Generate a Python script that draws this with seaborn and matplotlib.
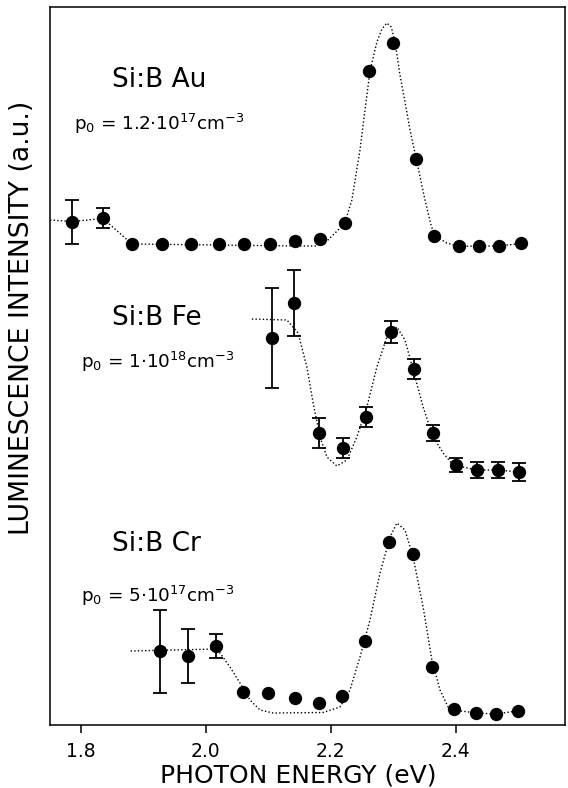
import seaborn as sns
import matplotlib.pyplot as plt
import numpy as np
import pandas as pd

# Photon energy (eV) and intensity (a.u.)
au_energy = [1.786, 1.835, 1.882, 1.930, 1.976, 2.021, 2.061, 2.103, 2.143, 2.183,
             2.223, 2.262, 2.300, 2.336, 2.365, 2.405, 2.437, 2.470, 2.504]
au_int = [5.03, 5.07, 4.81, 4.81, 4.81, 4.81, 4.81, 4.81, 4.84, 4.86,
          5.02, 6.54, 6.82, 5.66, 4.89, 4.79, 4.79, 4.79, 4.82]
au_err = [0.22, 0.10, 0, 0, 0, 0, 0, 0, 0, 0, 0, 0, 0, 0, 0, 0, 0, 0, 0]
au_fit_e = [1.751, 1.786, 1.836, 1.882, 2.151, 2.175, 2.194, 2.212, 2.223, 2.234,
            2.247, 2.255, 2.263, 2.274, 2.282, 2.290, 2.297, 2.303, 2.311, 2.319,
            2.327, 2.337, 2.351, 2.361, 2.367, 2.386, 2.405, 2.437, 2.469, 2.505]
au_fit_i = [5.05, 5.035, 5.065, 4.81, 4.79, 4.79, 4.84, 4.95, 5.03, 5.25,
            5.75, 6.15, 6.54, 6.83, 6.96, 7.02, 6.98, 6.83, 6.50, 6.23,
            5.95, 5.66, 5.25, 4.99, 4.89, 4.82, 4.785, 4.79, 4.79, 4.815]

fe_energy = [2.106, 2.141, 2.181, 2.220, 2.256, 2.296, 2.334, 2.364, 2.400, 2.434,
             2.467, 2.502]
fe_int = [3.87, 4.22, 2.92, 2.77, 3.08, 3.93, 3.56, 2.92, 2.60, 2.55, 2.55, 2.53]
fe_err = [0.50, 0.33, 0.15, 0.10, 0.10, 0.11, 0.10, 0.08, 0.07, 0.08, 0.08, 0.09]
fe_fit_e = [2.074, 2.130, 2.148, 2.162, 2.172, 2.183, 2.194, 2.210, 2.226, 2.242,
            2.258, 2.274, 2.290, 2.306, 2.319, 2.332, 2.348, 2.364, 2.380, 2.396,
            2.434, 2.467, 2.502]
fe_fit_i = [4.06, 4.05, 3.92, 3.58, 3.22, 2.88, 2.68, 2.59, 2.65, 2.88,
            3.18, 3.58, 3.88, 3.98, 3.85, 3.55, 3.18, 2.88, 2.72, 2.60,
            2.55, 2.55, 2.53]

cr_energy = [1.927, 1.972, 2.016, 2.059, 2.100, 2.143, 2.181, 2.218, 2.255, 2.294,
             2.332, 2.362, 2.397, 2.432, 2.464, 2.499]
cr_int = [0.74, 0.69, 0.79, 0.33, 0.32, 0.27, 0.22, 0.29, 0.84, 1.83,
          1.71, 0.58, 0.16, 0.12, 0.11, 0.14]
cr_err = [0.415, 0.27, 0.12, 0, 0, 0, 0, 0, 0, 0, 0, 0, 0, 0, 0, 0]
cr_fit_e = [1.880, 2.017, 2.023, 2.039, 2.055, 2.071, 2.087, 2.108, 2.188, 2.215,
            2.231, 2.247, 2.263, 2.279, 2.295, 2.306, 2.319, 2.332, 2.348, 2.362,
            2.375, 2.388, 2.397, 2.433, 2.465, 2.498]
cr_fit_i = [0.74, 0.76, 0.72, 0.58, 0.42, 0.25, 0.15, 0.12, 0.125, 0.18,
            0.35, 0.68, 1.05, 1.52, 1.88, 2.02, 1.95, 1.68, 1.18, 0.65,
            0.35, 0.18, 0.15, 0.12, 0.11, 0.14]

labels = ["Si:B Au", "Si:B Fe", "Si:B Cr"]
conc = [r"p$_0$ = 1.2$\cdot$10$^{17}$cm$^{-3}$",
        r"p$_0$ = 1$\cdot$10$^{18}$cm$^{-3}$",
        r"p$_0$ = 5$\cdot$10$^{17}$cm$^{-3}$"]
x_ticks = [1.8, 2.0, 2.2, 2.4]

sns.set_theme(style="ticks")
plt.rcParams['font.family'] = ['DejaVu Sans']
plt.rcParams['mathtext.default'] = 'regular'
plt.rcParams['text.color'] = 'black'
plt.rcParams['xtick.color'] = 'black'
plt.rcParams['xtick.labelcolor'] = 'black'

fig = plt.figure(figsize=(5.68, 7.88), dpi=100)
ax = fig.add_axes([50 / 568, 63 / 788, 515 / 568, 718 / 788])

series = [(au_energy, au_int, au_err, au_fit_e, au_fit_i),
          (fe_energy, fe_int, fe_err, fe_fit_e, fe_fit_i),
          (cr_energy, cr_int, cr_err, cr_fit_e, cr_fit_i)]

for e, i, err, fe, fi in series:
    fit = pd.DataFrame({"E": fe, "I": fi})
    sns.lineplot(data=fit, x="E", y="I", sort=False, ax=ax, color="black",
                 lw=1.0, linestyle=(0, (1, 1.6)), estimator=None)
    pts = pd.DataFrame({"E": e, "I": i, "err": err})
    with_err = pts[pts["err"] > 0]
    ax.errorbar(with_err["E"], with_err["I"], yerr=with_err["err"], fmt="none",
                ecolor="black", elinewidth=1.3, capsize=5, capthick=1.3, zorder=3)
    sns.scatterplot(data=pts, x="E", y="I", ax=ax, color="black", s=92,
                    edgecolor="black", linewidth=0, zorder=4)

# panel annotations (axes fraction)
title_pos = [(0.120, 0.889), (0.120, 0.557), (0.120, 0.242)]
conc_pos = [(0.046, 0.829), (0.061, 0.497), (0.061, 0.172)]
for lab, (x, y) in zip(labels, title_pos):
    ax.text(x, y, lab, transform=ax.transAxes, fontsize=19, va="baseline",
            color="black")
for c, (x, y) in zip(conc, conc_pos):
    ax.text(x, y, c, transform=ax.transAxes, fontsize=13.2, va="baseline",
            color="black")

ax.set_xlim(1.751, 2.575)
ax.set_ylim(0, 7.18)
ax.set_xticks(x_ticks)
ax.set_xticklabels([f"{t:.1f}" for t in x_ticks], fontsize=13.5, color="black")
ax.set_yticks([])
ax.tick_params(axis="x", direction="out", length=6, width=1.1, pad=6, color="black")
ax.set_xlabel("")
ax.set_ylabel("")
for s in ax.spines.values():
    s.set_visible(True)
    s.set_linewidth(1.1)
    s.set_color("black")

fig.text(0.525, 0.016, "PHOTON ENERGY (eV)", fontsize=18, ha="center", va="center",
         color="black")
fig.text(0.039, 0.597, "LUMINESCENCE INTENSITY (a.u.)", fontsize=19.2, rotation=90,
         ha="center", va="center", color="black")

plt.savefig("out.png", dpi=100, facecolor="white")
plt.close()
